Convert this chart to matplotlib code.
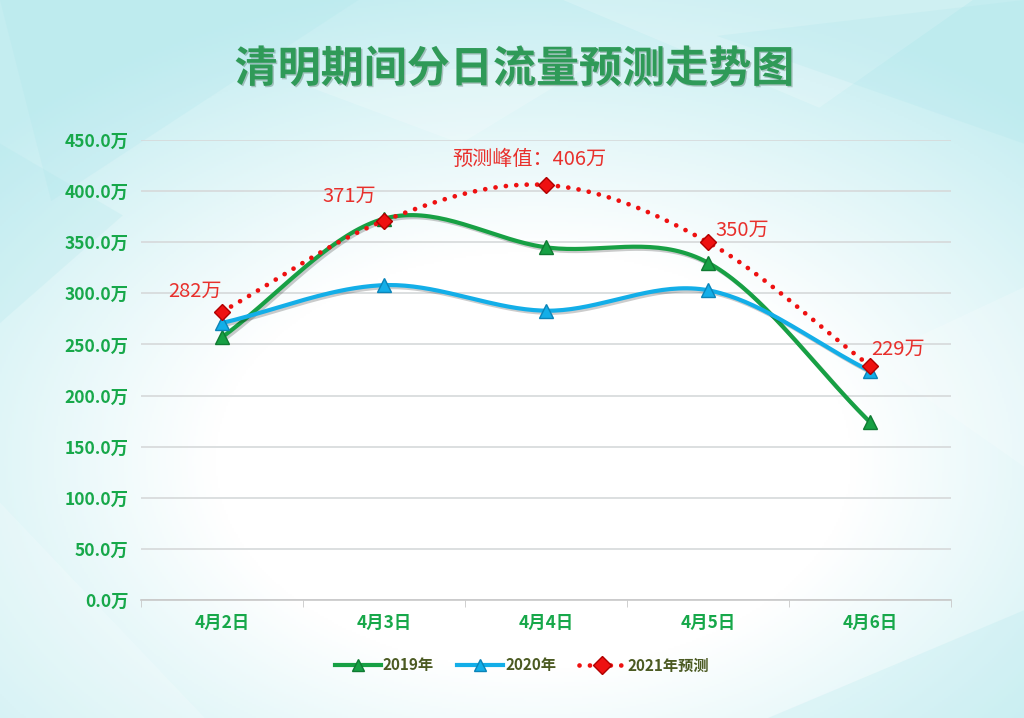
import numpy as np
import matplotlib
matplotlib.use('Agg')
import matplotlib.pyplot as plt
import matplotlib.patheffects as pe
from matplotlib.patches import Polygon

plt.rcParams['font.family'] = ['Noto Sans CJK SC', 'DejaVu Sans']

# 数据
dias = ['4月2日', '4月3日', '4月4日', '4月5日', '4月6日']
v2019 = [257, 373, 345, 330, 174]
v2020 = [271, 308, 283, 303, 224]
v2021 = [282, 371, 406, 350, 229]
etiquetas = ['282万', '371万', '预测峰值：406万', '350万', '229万']
desplaz = [(-27, 20), (-35, 24), (-17, 25), (34, 12), (28, 17)]
yticks = [0, 50, 100, 150, 200, 250, 300, 350, 400, 450]


def suave(x, y, n=40):
    # curva tipo Catmull-Rom (como el suavizado de Excel)
    x = np.asarray(x, float)
    y = np.asarray(y, float)
    px = np.concatenate([[2 * x[0] - x[1]], x, [2 * x[-1] - x[-2]]])
    py = np.concatenate([[2 * y[0] - y[1]], y, [2 * y[-1] - y[-2]]])
    xs, ys = [], []
    t = np.linspace(0, 1, n)
    for i in range(1, len(px) - 2):
        p0, p1, p2, p3 = [np.array([px[j], py[j]]) for j in range(i - 1, i + 3)]
        c1 = p1 + (p2 - p0) / 6
        c2 = p2 - (p3 - p1) / 6
        pts = ((1 - t) ** 3)[:, None] * p1 + (3 * (1 - t) ** 2 * t)[:, None] * c1 \
            + (3 * (1 - t) * t ** 2)[:, None] * c2 + (t ** 3)[:, None] * p2
        xs.extend(pts[:, 0])
        ys.extend(pts[:, 1])
    return np.array(xs), np.array(ys)


fig = plt.figure(figsize=(10.24, 7.18), dpi=100)

# fondo
bg = fig.add_axes([0, 0, 1, 1], zorder=-10)
h, w = 359, 512
yy, xx = np.mgrid[0:h, 0:w]
d = np.sqrt(((xx / w - 0.52) / 0.62) ** 2 + ((yy / h - 0.64) / 0.58) ** 2)
k = np.clip((d - 0.5) / 0.65, 0, 1)[..., None]
blanco = np.array([1.0, 1.0, 1.0])
cian = np.array([0.77, 0.93, 0.945])
img = blanco * (1 - k) + cian * k
bg.imshow(img, extent=[0, 1, 0, 1], aspect='auto', origin='upper')
polis = [
    [(0, 1), (0.35, 1), (0.05, 0.72)],
    [(0.55, 1), (0.95, 1), (0.8, 0.85)],
    [(0.7, 0.95), (1, 0.8), (1, 1)],
    [(0, 0.3), (0.2, 0.0), (0, 0)],
    [(0.75, 0), (1, 0.15), (1, 0)],
    [(0.3, 0.88), (0.6, 0.93), (0.45, 0.8)],
    [(0, 0.55), (0.12, 0.7), (0, 0.8)],
    [(0.85, 0.5), (1, 0.35), (1, 0.6)],
]
for i, p in enumerate(polis):
    bg.add_patch(Polygon(p, closed=True, color='white' if i % 2 else '#a8e4ea',
                         alpha=0.2, lw=0))
bg.set_xlim(0, 1)
bg.set_ylim(0, 1)
bg.axis('off')

ax = fig.add_axes([141 / 1024, 1 - 600 / 718, 810 / 1024, 460 / 718])
ax.patch.set_alpha(0)
x = np.arange(len(dias))

sombra = [pe.SimpleLineShadow(offset=(1.5, -1.5), alpha=0.2), pe.Normal()]

xs, ys = suave(x, v2019)
ax.plot(xs, ys, color='#17a044', lw=3, path_effects=sombra, zorder=3)
ax.plot(x, v2019, ls='none', marker='^', ms=10, color='#17a044',
        mec='#0f7a32', zorder=4)

xs, ys = suave(x, v2020)
ax.plot(xs, ys, color='#13aee8', lw=3, path_effects=sombra, zorder=3)
ax.plot(x, v2020, ls='none', marker='^', ms=10, color='#13aee8',
        mec='#0b84b8', zorder=4)

xs, ys = suave(x, v2021)
ax.plot(xs, ys, color='#ee1111', lw=3.4, ls=(0, (0.01, 2.2)),
        dash_capstyle='round', zorder=5)
ax.plot(x, v2021, ls='none', marker='D', ms=8, color='#ee1111',
        mec='#b00000', zorder=6)

for xi, yi, txt, off in zip(x, v2021, etiquetas, desplaz):
    ax.annotate(txt, (xi, yi), xytext=off, textcoords='offset pixels',
                ha='center', va='center', fontsize=14.5, color='#e8302c')

# leyenda (proxies)
l1, = ax.plot([], [], color='#17a044', lw=3, marker='^', ms=9, mec='#0f7a32')
l2, = ax.plot([], [], color='#13aee8', lw=3, marker='^', ms=9, mec='#0b84b8')
l3, = ax.plot([], [], color='#ee1111', lw=3.4, ls=(0, (0.01, 2.2)),
              dash_capstyle='round', marker='D', ms=9, mec='#b00000')
leg = ax.legend([l1, l2, l3], ['2019年', '2020年', '2021年预测'], loc='upper center',
                bbox_to_anchor=(0.47, -0.095), ncol=3, frameon=False,
                handlelength=3.0, columnspacing=1.5, handletextpad=0.15,
                prop={'size': 11, 'weight': 'bold'})
for t in leg.get_texts():
    t.set_color('#4b5a22')

ax.set_xlim(-0.5, len(dias) - 0.5)
ax.set_ylim(0, 450)
ax.set_yticks(yticks)
ax.set_yticklabels([f'{v:.1f}万' for v in yticks])
ax.set_xticks(x)
ax.set_xticklabels(dias)
ax.set_xticks(np.arange(-0.5, len(dias), 1), minor=True)
ax.tick_params(axis='x', which='major', length=0, pad=10)
ax.tick_params(axis='x', which='minor', length=5, color='#c8c8c8', direction='out')
ax.tick_params(axis='y', length=0, pad=9)
for lab in ax.get_xticklabels() + ax.get_yticklabels():
    lab.set_color('#17a84a')
    lab.set_fontweight('bold')
    lab.set_fontsize(12.5)
ax.grid(axis='y', color='#d6d9da', lw=1.2)
ax.set_axisbelow(True)
for s in ['top', 'right', 'left']:
    ax.spines[s].set_visible(False)
ax.spines['bottom'].set_color('#c8c8c8')
ax.spines['bottom'].set_linewidth(1.2)

fig.text(0.502, 1 - 69 / 718, '清明期间分日流量预测走势图', ha='center', va='center',
         fontsize=31, fontweight='heavy', color='#2f9a58',
         path_effects=[pe.withSimplePatchShadow(offset=(1, -1), alpha=0.25)])

fig.savefig('out.png', dpi=100)
